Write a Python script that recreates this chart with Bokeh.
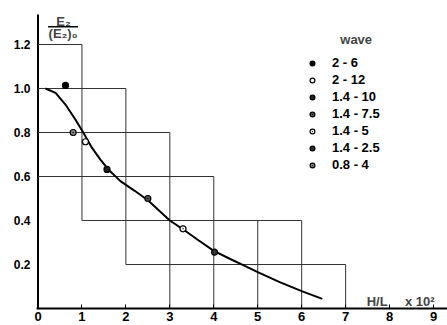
from bokeh.plotting import figure
from bokeh.models import Range1d, FixedTicker, Legend, LegendItem, Label
from bokeh.embed import file_html
from bokeh.resources import INLINE

# ---- data ----
x_ticks = [0, 1, 2, 3, 4, 5, 6, 7, 8, 9]
y_ticks = [0.2, 0.4, 0.6, 0.8, 1.0, 1.2]
y_tick_labels = ["0.2", "0.4", "0.6", "0.8", "1.0", "1.2"]

# step boxes
h_y = [1.2, 1.0, 0.8, 0.6, 0.4, 0.2]
h_x0 = [0, 0, 0, 0, 1, 2]
h_x1 = [1, 2, 3, 4, 6, 7]
v_x = [1, 2, 3, 4, 5, 6, 7]
v_y0 = [0.4, 0.2, 0, 0, 0, 0, 0]
v_y1 = [1.2, 1.0, 0.8, 0.6, 0.4, 0.4, 0.2]

# fitted curve
curve_x = [0.17, 0.4, 0.625, 0.85, 1.03, 1.23, 1.42, 1.6, 1.875, 2.2, 2.5, 3.0, 3.3,
           3.65, 4.0, 4.375, 4.67, 5.0, 5.5, 6.0, 6.47]
curve_y = [1.0, 0.98, 0.927, 0.859, 0.8, 0.73, 0.677, 0.632, 0.579, 0.535, 0.492, 0.40,
           0.36, 0.31, 0.262, 0.225, 0.197, 0.165, 0.12, 0.079, 0.044]

# measured points, one per wave series
series = ["2 - 6", "2 - 12", "1.4 - 10", "1.4 - 7.5", "1.4 - 5", "1.4 - 2.5", "0.8 - 4"]
pt_x = [0.625, 1.08, 1.57, 2.50, 3.30, 4.02, 0.80]
pt_y = [1.014, 0.758, 0.632, 0.50, 0.362, 0.256, 0.80]
markers = ["circle", "circle", "circle", "circle_dot", "circle_dot", "circle", "circle_dot"]
fills = ["black", "white", "#222222", "#555555", "white", "#333333", "#888888"]

FONT = "Liberation Sans"

p = figure(width=447, height=325, output_backend="svg", toolbar_location=None,
           x_range=Range1d(-0.034, 9.318), y_range=Range1d(0, 1.4),
           min_border_left=36, min_border_right=0, min_border_top=0, min_border_bottom=17)
p.xgrid.visible = False
p.ygrid.visible = False
p.outline_line_color = None
p.background_fill_color = "white"
p.border_fill_color = "white"

# axes
xa = p.xaxis[0]
xa.ticker = FixedTicker(ticks=x_ticks)
xa.axis_line_width = 2
xa.axis_line_color = "black"
xa.major_tick_in = 4
xa.major_tick_out = 0
xa.major_tick_line_color = "black"
xa.minor_tick_line_color = None
xa.major_label_standoff = 3
xa.major_label_text_font = FONT
xa.major_label_text_font_style = "bold"
xa.major_label_text_font_size = "13px"
xa.major_label_text_color = "black"

ya = p.yaxis[0]
ya.ticker = FixedTicker(ticks=y_ticks)
ya.major_label_overrides = {t: s for t, s in zip(y_ticks, y_tick_labels)}
ya.axis_line_color = None
ya.major_tick_line_color = None
ya.minor_tick_line_color = None
ya.major_tick_in = 0
ya.major_tick_out = 0
ya.major_label_standoff = 6
ya.major_label_text_font = FONT
ya.major_label_text_font_style = "bold"
ya.major_label_text_font_size = "12px"
ya.major_label_text_color = "black"

# vertical axis line (stops below the top)
p.segment(x0=[0], y0=[0], x1=[0], y1=[1.336], line_color="black", line_width=2)

# boxes
p.segment(x0=h_x0, y0=h_y, x1=h_x1, y1=h_y, line_color="#333333", line_width=1)
p.segment(x0=v_x, y0=v_y0, x1=v_x, y1=v_y1, line_color="#333333", line_width=1)

# curve
p.line(curve_x, curve_y, line_color="black", line_width=2)

# points + legend
items = []
for i, name in enumerate(series):
    r = p.scatter([pt_x[i]], [pt_y[i]], marker=markers[i], size=6,
                  fill_color=fills[i], line_color="black", line_width=1.2)
    items.append(LegendItem(label=name, renderers=[r]))

legend = Legend(items=items, location=(270, 136), glyph_width=12, glyph_height=12,
                label_height=14, label_width=40, spacing=2, label_standoff=14,
                padding=0, margin=0, border_line_color=None, background_fill_alpha=0,
                label_text_font=FONT, label_text_font_style="bold",
                label_text_font_size="13px", label_text_color="black")
p.add_layout(legend)

p.add_layout(Label(x=7.24, y=1.223, text="wave", text_align="center", text_baseline="middle",
                   text_font=FONT, text_font_style="bold", text_font_size="13px"))

# y label (fraction)
p.add_layout(Label(x=0.58, y=1.306, text="E₂", text_align="center", text_baseline="middle",
                   text_font=FONT, text_font_style="bold", text_font_size="13px"))
p.add_layout(Label(x=0.57, y=1.248, text="(E₂)₀", text_align="center", text_baseline="middle",
                   text_font=FONT, text_font_style="bold", text_font_size="13px"))
p.segment(x0=[0.23], y0=[1.281], x1=[0.91], y1=[1.281], line_color="black", line_width=1.5)

# x label
p.add_layout(Label(x=7.48, y=0.032, text="H/L", text_align="left", text_baseline="alphabetic",
                   text_font=FONT, text_font_style="bold", text_font_size="13px"))
p.add_layout(Label(x=8.35, y=0.032, text="x 10²", text_align="left", text_baseline="alphabetic",
                   text_font=FONT, text_font_style="bold", text_font_size="13px"))

open("out.html", "w").write(file_html(p, INLINE))
